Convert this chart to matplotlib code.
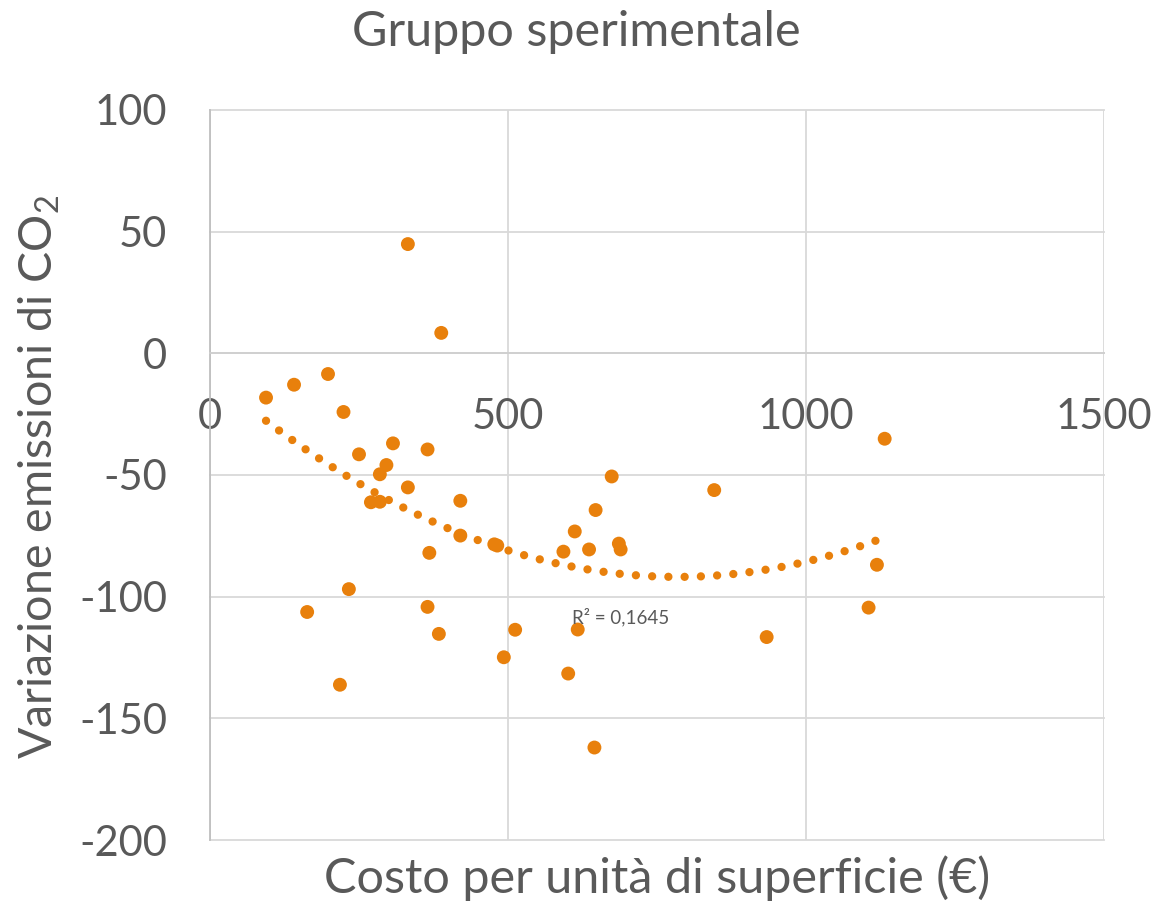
import numpy as np
import matplotlib
matplotlib.use("Agg")
import matplotlib.pyplot as plt

plt.rcParams['font.family'] = ['Lato', 'DejaVu Sans']
plt.rcParams['mathtext.fontset'] = 'custom'
plt.rcParams['mathtext.rm'] = 'Lato'

title = "Gruppo sperimentale"
x_label = "Costo per unità di superficie (€)"
y_label = r"Variazione emissioni di CO$_2$"
x_ticks = [0, 500, 1000, 1500]
y_ticks = [100, 50, 0, -50, -100, -150, -200]

cost = [94, 141, 198, 224, 332, 388, 250, 307, 365, 296, 285, 332, 270, 285, 420,
        368, 420, 477, 482, 233, 163, 365, 384, 218, 493, 512, 674, 647, 612, 593,
        636, 686, 689, 846, 617, 601, 645, 934, 1132, 1119, 1105]
co2 = [-18.2, -12.9, -8.5, -24.1, 44.9, 8.4, -41.5, -37.0, -39.5, -45.9, -49.7,
       -55.1, -61.2, -61.0, -60.6, -82.0, -74.9, -78.5, -79.0, -96.9, -106.3,
       -104.2, -115.3, -136.2, -124.9, -113.6, -50.6, -64.4, -73.2, -81.5, -80.6,
       -78.2, -80.6, -56.2, -113.5, -131.6, -162.0, -116.6, -35.1, -86.9, -104.5]
r2_text = "R² = 0,1645"

orange = '#E8800C'
txt = '#595959'
grid_c = '#D9D9D9'

fig = plt.figure(figsize=(11.58, 9.07), dpi=100)
ax = fig.add_axes([210/1158, 1-840/907, (1104-210)/1158, (840-110)/907])

ax.set_xlim(0, 1500)
ax.set_ylim(-200, 100)
ax.set_xticks(x_ticks)
ax.set_yticks(y_ticks)
ax.set_yticklabels([str(v) for v in y_ticks])
ax.grid(True, color=grid_c, linewidth=1.3, zorder=0)
for ln in ax.get_xgridlines() + ax.get_ygridlines():
    ln.set_clip_on(False)
ax.set_axisbelow(True)

for s in ['top', 'right']:
    ax.spines[s].set_visible(False)
ax.spines['left'].set_color('#BFBFBF')
ax.spines['left'].set_linewidth(1.3)
ax.spines['bottom'].set_position(('data', 0))
ax.spines['bottom'].set_color('#CFCFCF')
ax.spines['bottom'].set_linewidth(1.3)
ax.tick_params(axis='both', length=0, labelsize=30, labelcolor=txt)
ax.tick_params(axis='x', pad=32)
ax.tick_params(axis='y', pad=31)

ax.scatter(cost, co2, s=100, color=orange, edgecolors='none', zorder=3)

# polynomial (order 2) trendline
cx = np.array(cost, dtype=float)
cy = np.array(co2, dtype=float)
coef = np.polyfit(cx, cy, 2)
xs = np.linspace(cx.min(), cx.max(), 400)
ax.plot(xs, np.polyval(coef, xs), color=orange, linewidth=6.0,
        linestyle=(0, (0.001, 1.95)), dash_capstyle='round', zorder=2)

ax.text(608, -111, r2_text, fontsize=13.5, color=txt, ha='left', va='baseline', zorder=4)

fig.text(576/1158, 1-46/907, title, fontsize=35, color=txt, ha='center', va='baseline')
fig.text(657/1158, 1-893/907, x_label, fontsize=35, color=txt, ha='center', va='baseline')
fig.text(39/1158, 1-477/907, y_label, fontsize=33.5, color=txt, ha='center', va='center',
         rotation=90)

fig.savefig('out.png', dpi=100)
